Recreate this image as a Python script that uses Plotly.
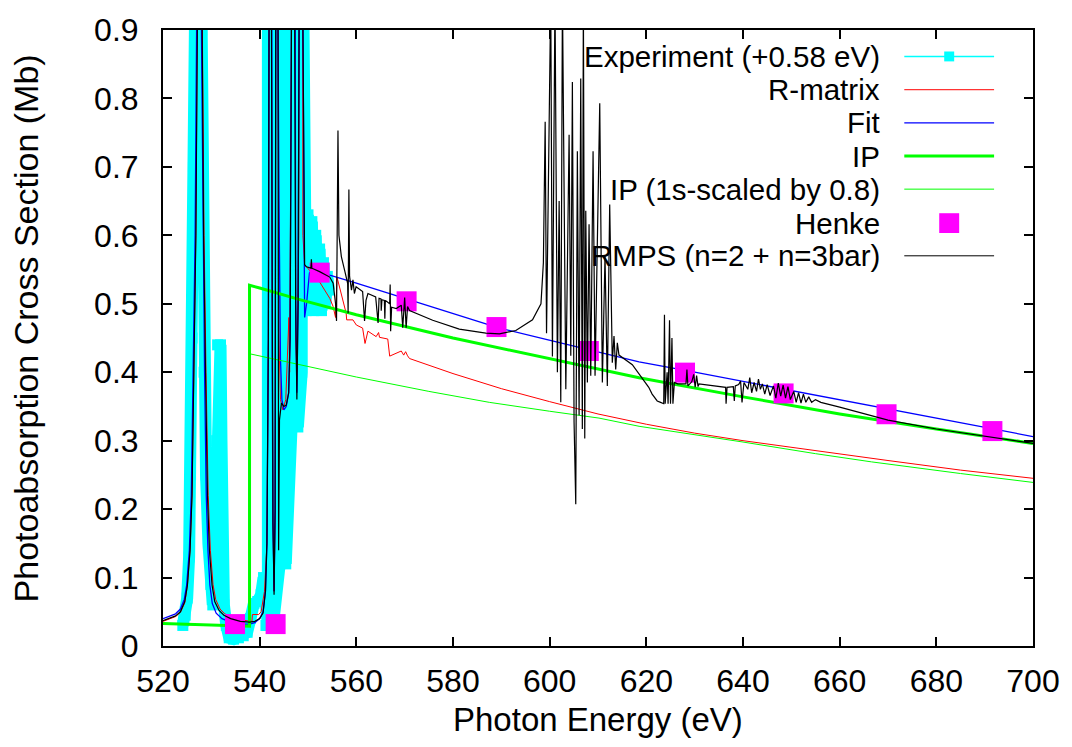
import plotly.graph_objects as go

# ---------------- data (photon energy in eV, cross section in Mb) ----------------
exp_energy = [524.1, 524.6, 525.0, 525.4, 525.7, 526.0, 526.3, 526.6, 526.8, 527.8, 528.0, 528.2,
              528.5, 528.9, 529.4, 529.9, 530.3, 530.8, 531.1, 531.3, 531.9, 532.1, 532.3, 532.6,
              533.1, 533.7, 534.6, 535.6, 536.6, 537.4, 538.1, 538.8, 539.6, 540.3, 540.8, 541.3,
              541.7, 541.7, 542.9, 542.9, 544.15, 544.15, 545.4, 545.4, 546.6, 546.6, 547.9, 547.9,
              548.7, 548.7, 549.3, 549.6, 550.0, 550.4, 550.8, 551.2, 551.6, 552.0, 552.4, 552.8,
              553.2, 553.6, 554.0, 554.3]
exp_sigma = [0.030, 0.045, 0.070, 0.13, 0.25, 0.45, 0.70, 0.90, 1.20, 1.20, 0.90, 0.60,
             0.40, 0.25, 0.15, 0.09, 0.06, 0.15, 0.30, 0.44, 0.44, 0.30, 0.15, 0.06,
             0.03, 0.012, 0.010, 0.012, 0.015, 0.020, 0.040, 0.062, 0.065, 0.075, 0.10, 0.03,
             0.03, 1.20, 1.20, 0.04, 0.12, 1.20, 1.20, 0.12, 0.32, 1.20, 1.20, 0.32,
             0.40, 1.20, 0.62, 0.49, 0.63, 0.50, 0.62, 0.49, 0.60, 0.50, 0.58, 0.49,
             0.56, 0.50, 0.54, 0.52]

rmat_energy = [520.0, 522.6, 523.6, 524.5, 525.05, 525.6, 526.0, 526.4, 526.8, 527.1, 527.65, 528.15,
               528.5, 528.9, 529.35, 529.8, 530.35, 530.9, 531.8, 532.8, 534.0, 536.0, 537.9, 538.4,
               538.5, 539.8, 540.3, 541.0, 541.5, 541.8, 541.94, 542.19, 542.44, 542.6, 542.75, 542.98,
               543.2, 543.33, 543.56, 543.8, 544.0, 544.3, 544.8, 545.4, 545.8, 546.05, 546.2, 546.57,
               546.9, 547.25, 547.45, 547.7, 548.1, 548.5, 548.85, 548.95, 549.3, 549.7, 552.4, 554.5,
               555.2, 555.7, 556.0, 556.9, 557.9, 558.0, 559.3, 560.0, 561.3, 561.8, 562.4, 564.1,
               564.6, 564.8, 566.5, 566.9, 569.3, 569.8, 570.2, 570.6, 571.0, 580.0, 590.0, 600.0,
               610.0, 620.0, 630.0, 640.0, 655.0, 670.0, 685.0, 700.0]
rmat_sigma = [0.036, 0.043, 0.049, 0.063, 0.088, 0.14, 0.22, 0.40, 0.60, 0.90, 6.0, 0.90,
              0.60, 0.40, 0.22, 0.14, 0.090, 0.068, 0.054, 0.047, 0.042, 0.038, 0.036, 0.036,
              0.046, 0.046, 0.050, 0.080, 0.15, 0.45, 0.90, 3.0, 0.90, 0.40, 0.18, 0.080,
              0.20, 0.90, 3.0, 0.90, 0.45, 0.36, 0.345, 0.36, 0.42, 0.48, 0.40, 0.90,
              3.0, 0.90, 0.45, 0.40, 0.60, 3.0, 0.83, 0.60, 0.556, 0.554, 0.532, 0.508,
              0.496, 0.480, 0.539, 0.515, 0.486, 0.4765, 0.4765, 0.469, 0.4645, 0.442, 0.460, 0.452,
              0.458, 0.451, 0.4485, 0.4235, 0.431, 0.425, 0.430, 0.424, 0.420, 0.398, 0.376, 0.357,
              0.339, 0.324, 0.311, 0.300, 0.285, 0.271, 0.257, 0.245]

fit_energy = [520.0, 522.6, 523.6, 524.4, 524.9, 525.45, 525.85, 526.25, 526.65, 526.95, 527.45, 527.95,
              528.25, 528.6, 528.95, 529.3, 529.7, 530.2, 531.0, 532.2, 534.0, 536.0, 537.9, 539.0,
              540.0, 540.7, 541.2, 541.5, 541.8, 541.94, 542.19, 542.44, 542.6, 542.75, 542.98, 543.2,
              543.33, 543.56, 543.8, 544.0, 544.15, 544.3, 544.6, 545.0, 545.5, 546.0, 546.3, 546.57,
              546.9, 547.25, 547.45, 547.7, 547.95, 548.15, 548.55, 548.96, 549.1, 549.3, 549.7, 550.3,
              551.0, 552.4, 554.5, 560.0, 570.0, 580.0, 589.6, 599.9, 610.0, 618.5, 630.0, 641.2,
              650.0, 660.0, 670.0, 680.0, 690.0, 700.0]
fit_sigma = [0.040, 0.047, 0.054, 0.068, 0.089, 0.14, 0.22, 0.40, 0.60, 0.90, 6.0, 0.90,
             0.60, 0.40, 0.22, 0.14, 0.089, 0.062, 0.048, 0.040, 0.035, 0.032, 0.032, 0.034,
             0.040, 0.050, 0.080, 0.15, 0.45, 0.90, 3.0, 0.90, 0.40, 0.18, 0.080, 0.20,
             0.90, 3.0, 0.90, 0.65, 0.55, 0.42, 0.36, 0.345, 0.35, 0.37, 0.45, 0.90,
             3.0, 0.90, 0.50, 0.37, 0.50, 0.90, 3.0, 0.90, 0.60, 0.48, 0.50, 0.545,
             0.552, 0.548, 0.542, 0.530, 0.508, 0.485, 0.4645, 0.447, 0.430, 0.415, 0.400, 0.385,
             0.373, 0.360, 0.346, 0.333, 0.319, 0.306]

ip_energy = [520.0, 537.9, 537.9, 540.0, 548.3, 560.0, 580.0, 599.9, 618.5, 640.0, 660.0, 680.0, 700.0]
ip_sigma = [0.033, 0.029, 0.527, 0.523, 0.506, 0.484, 0.450, 0.4196, 0.392, 0.364, 0.339, 0.317, 0.296]

p_energy = [520.0, 537.9, 537.9, 548.3, 560.0, 575.0, 587.5, 600.0, 610.2, 618.5, 626.7, 640.0,
            655.0, 666.6, 685.0, 700.0]
p_sigma = [0.032, 0.029, 0.427, 0.411, 0.393, 0.372, 0.356, 0.343, 0.333, 0.321, 0.3125, 0.298,
           0.281, 0.269, 0.252, 0.239]

henke_energy = [534.9, 543.3, 552.4, 570.4, 589.0, 608.1, 628.0, 648.4, 669.7, 691.6]
henke_sigma = [0.032, 0.032, 0.5455, 0.5036, 0.466, 0.431, 0.3994, 0.369, 0.3386, 0.314]

rmps_energy = [520.0, 522.6, 523.6, 524.5, 525.05, 525.6, 526.0, 526.4, 526.8, 527.1, 527.6, 528.1,
               528.4, 528.8, 529.2, 529.6, 530.15, 530.7, 531.6, 532.6, 534.0, 536.0, 537.9, 539.0,
               540.0, 540.7, 541.2, 541.5, 541.8, 541.94, 542.19, 542.44, 542.6, 542.75, 542.98, 543.2,
               543.33, 543.56, 543.8, 543.92, 544.1, 544.5, 545.0, 545.5, 546.0, 546.3, 546.57, 546.9,
               547.25, 547.45, 547.7, 547.95, 548.15, 548.55, 548.96, 549.1, 549.3, 549.7, 550.6, 550.7,
               550.8, 552.4, 554.5, 555.2, 555.7, 555.9, 556.2, 556.4, 556.9, 557.7, 558.2, 558.3,
               558.46, 558.6, 559.0, 559.3, 559.6, 559.95, 560.5, 561.3, 561.7, 562.0, 562.4, 564.0,
               564.5, 564.7, 565.1, 565.15, 565.3, 565.8, 565.9, 566.0, 566.9, 567.0, 567.1, 567.3,
               568.25, 569.3, 569.6, 570.0, 570.3, 570.6, 571.0, 575.8, 581.3, 586.8, 589.6, 593.0,
               596.45, 598.2, 598.7, 599.07, 599.35, 600.22, 600.57, 601.1, 601.6, 601.96, 602.3, 602.64,
               603.34, 604.02, 604.37, 604.70, 605.05, 605.40, 605.73, 606.09, 606.43, 606.76, 606.97, 607.26,
               607.47, 607.80, 608.15, 608.50, 608.98, 609.39, 610.36, 610.90, 611.45, 611.93, 612.42, 612.96,
               613.31, 613.66, 614.0, 614.34, 617.1, 619.85, 620.5, 621.2, 622.25, 622.95, 623.6, 623.75,
               623.9, 624.3, 624.5, 624.8, 625.0, 625.3, 625.5, 625.8, 626.5, 628.2, 628.4, 628.6,
               629.4, 629.8, 630.1, 630.4, 630.7, 630.9, 635.0, 636.4, 636.5, 636.7, 638.0, 638.2,
               638.4, 639.1, 639.5, 639.8, 640.2, 641.0, 641.4, 641.8, 642.3, 642.8, 643.2, 643.6,
               644.0, 644.5, 645.0, 645.6, 646.3, 646.8, 647.3, 647.8, 648.3, 648.8, 649.3, 649.8,
               650.5, 651.0, 651.5, 652.0, 652.5, 653.0, 653.6, 654.2, 655.0, 656.1, 660.0, 665.0,
               670.0, 680.0, 690.0, 700.0]
rmps_sigma = [0.037, 0.044, 0.050, 0.065, 0.089, 0.14, 0.22, 0.40, 0.60, 0.90, 6.0, 0.90,
              0.60, 0.40, 0.22, 0.14, 0.089, 0.065, 0.052, 0.045, 0.040, 0.036, 0.035, 0.036,
              0.040, 0.048, 0.080, 0.15, 0.45, 0.90, 3.0, 0.90, 0.40, 0.18, 0.075, 0.20,
              0.90, 3.0, 0.90, 0.14, 0.33, 0.355, 0.35, 0.352, 0.37, 0.45, 0.90, 3.0,
              0.90, 0.50, 0.36, 0.50, 0.90, 3.0, 0.90, 0.65, 0.557, 0.554, 0.552, 0.565,
              0.552, 0.547, 0.539, 0.530, 0.500, 0.475, 0.753, 0.600, 0.569, 0.545, 0.530, 0.486,
              0.667, 0.540, 0.520, 0.535, 0.515, 0.525, 0.522, 0.518, 0.475, 0.505, 0.515, 0.510,
              0.472, 0.508, 0.507, 0.490, 0.506, 0.505, 0.478, 0.505, 0.500, 0.528, 0.460, 0.495,
              0.493, 0.498, 0.465, 0.509, 0.465, 0.496, 0.490, 0.476, 0.463, 0.457, 0.456, 0.461,
              0.4765, 0.500, 0.560, 0.766, 0.457, 0.95, 0.423, 0.95, 0.400, 0.650, 0.356, 0.95,
              0.375, 0.747, 0.424, 0.824, 0.327, 0.207, 0.723, 0.337, 0.829, 0.317, 0.95, 0.303,
              0.636, 0.385, 0.616, 0.395, 0.723, 0.395, 0.793, 0.385, 0.569, 0.380, 0.645, 0.414,
              0.453, 0.404, 0.443, 0.425, 0.411, 0.385, 0.378, 0.368, 0.358, 0.356, 0.354, 0.484,
              0.354, 0.400, 0.354, 0.476, 0.354, 0.450, 0.354, 0.385, 0.383, 0.383, 0.404, 0.380,
              0.386, 0.397, 0.378, 0.395, 0.379, 0.383, 0.380, 0.378, 0.354, 0.378, 0.379, 0.358,
              0.380, 0.382, 0.387, 0.356, 0.385, 0.375, 0.392, 0.370, 0.385, 0.372, 0.390, 0.375,
              0.383, 0.368, 0.382, 0.366, 0.380, 0.362, 0.384, 0.365, 0.381, 0.362, 0.379, 0.360,
              0.372, 0.356, 0.370, 0.355, 0.368, 0.356, 0.364, 0.356, 0.360, 0.356, 0.349, 0.339,
              0.330, 0.317, 0.306, 0.296]

legend_labels = ["Experiment (+0.58 eV)", "R-matrix", "Fit", "IP", "IP (1s-scaled by 0.8)",
                 "Henke", "RMPS (n=2 + n=3bar)"]

x_ticks = [520, 540, 560, 580, 600, 620, 640, 660, 680, 700]
y_ticks = [0, 0.1, 0.2, 0.3, 0.4, 0.5, 0.6, 0.7, 0.8, 0.9]

# ---------------- figure ----------------
CYAN, RED, BLUE, GREEN, MAGENTA = "#00ffff", "#ff0000", "#0000ff", "#00ff00", "#ff00ff"
FONT = "Liberation Sans, Arial, Helvetica, sans-serif"

fig = go.Figure()
fig.add_trace(go.Scatter(x=exp_energy, y=exp_sigma, mode="lines+markers",
                         line=dict(color=CYAN, width=12),
                         marker=dict(symbol="square", size=11, color=CYAN)))
fig.add_trace(go.Scatter(x=rmat_energy, y=rmat_sigma, mode="lines", line=dict(color=RED, width=1)))
fig.add_trace(go.Scatter(x=fit_energy, y=fit_sigma, mode="lines", line=dict(color=BLUE, width=1.3)))
fig.add_trace(go.Scatter(x=ip_energy, y=ip_sigma, mode="lines", line=dict(color=GREEN, width=3)))
fig.add_trace(go.Scatter(x=p_energy, y=p_sigma, mode="lines", line=dict(color=GREEN, width=1)))
fig.add_trace(go.Scatter(x=henke_energy, y=henke_sigma, mode="markers",
                         marker=dict(symbol="square", size=20, color=MAGENTA, line=dict(width=0))))
fig.add_trace(go.Scatter(x=rmps_energy, y=rmps_sigma, mode="lines", line=dict(color="black", width=1.2)))

# plot area in pixels
L, R, T, B = 163, 1035, 24, 646
W, H = R - L, B - T


def px(xp):
    return (xp - L) / W


def py(yp):
    return (B - yp) / H


# key: labels right-aligned, sample to the right
row_y = [50.7, 84.3, 117.7, 151.3, 184.7, 219.0, 252.0]
sample_styles = [(CYAN, 1.5), (RED, 1), (BLUE, 1.3), (GREEN, 3), (GREEN, 1), None, ("black", 1)]
shapes = []
annotations = []
for label, yrow, style in zip(legend_labels, row_y, sample_styles):
    annotations.append(dict(x=px(884), y=py(yrow), xref="paper", yref="paper", text=label,
                            showarrow=False, xanchor="right", yanchor="middle",
                            font=dict(family=FONT, size=29.5, color="black")))
    if style is not None:
        shapes.append(dict(type="line", xref="paper", yref="paper", x0=px(906), x1=px(996),
                           y0=py(yrow), y1=py(yrow), line=dict(color=style[0], width=style[1])))
shapes.append(dict(type="rect", xref="paper", yref="paper", x0=px(946), x1=px(956),
                   y0=py(row_y[0] + 5), y1=py(row_y[0] - 5), fillcolor=CYAN, line=dict(width=0)))
shapes.append(dict(type="rect", xref="paper", yref="paper", x0=px(941), x1=px(961),
                   y0=py(row_y[5] + 10), y1=py(row_y[5] - 10), fillcolor=MAGENTA, line=dict(width=0)))

annotations.append(dict(x=0.5, y=py(720), xref="paper", yref="paper", text="Photon Energy (eV)",
                        showarrow=False, xanchor="center", yanchor="middle",
                        font=dict(family=FONT, size=33, color="black")))
annotations.append(dict(x=px(26), y=py(325), xref="paper", yref="paper",
                        text="Photoabsorption Cross Section (Mb)", textangle=-90,
                        showarrow=False, xanchor="center", yanchor="middle",
                        font=dict(family=FONT, size=34, color="black")))

axis_common = dict(showline=True, linecolor="black", linewidth=2, mirror="ticks", ticks="inside",
                   ticklen=9, tickwidth=1.5, tickcolor="black", showgrid=False, zeroline=False,
                   tickfont=dict(family=FONT, size=32, color="black"))

fig.update_layout(
    width=1072, height=747, autosize=False,
    margin=dict(l=L, r=1072 - R, t=T, b=747 - B),
    paper_bgcolor="white", plot_bgcolor="white",
    showlegend=False,
    xaxis=dict(range=[520, 700], tickvals=x_ticks, ticklabelstandoff=6, **axis_common),
    yaxis=dict(range=[0, 0.9], tickvals=y_ticks, ticklabelstandoff=16, **axis_common),
    shapes=shapes, annotations=annotations,
)

fig.write_html("out.html", config={"displayModeBar": False})
